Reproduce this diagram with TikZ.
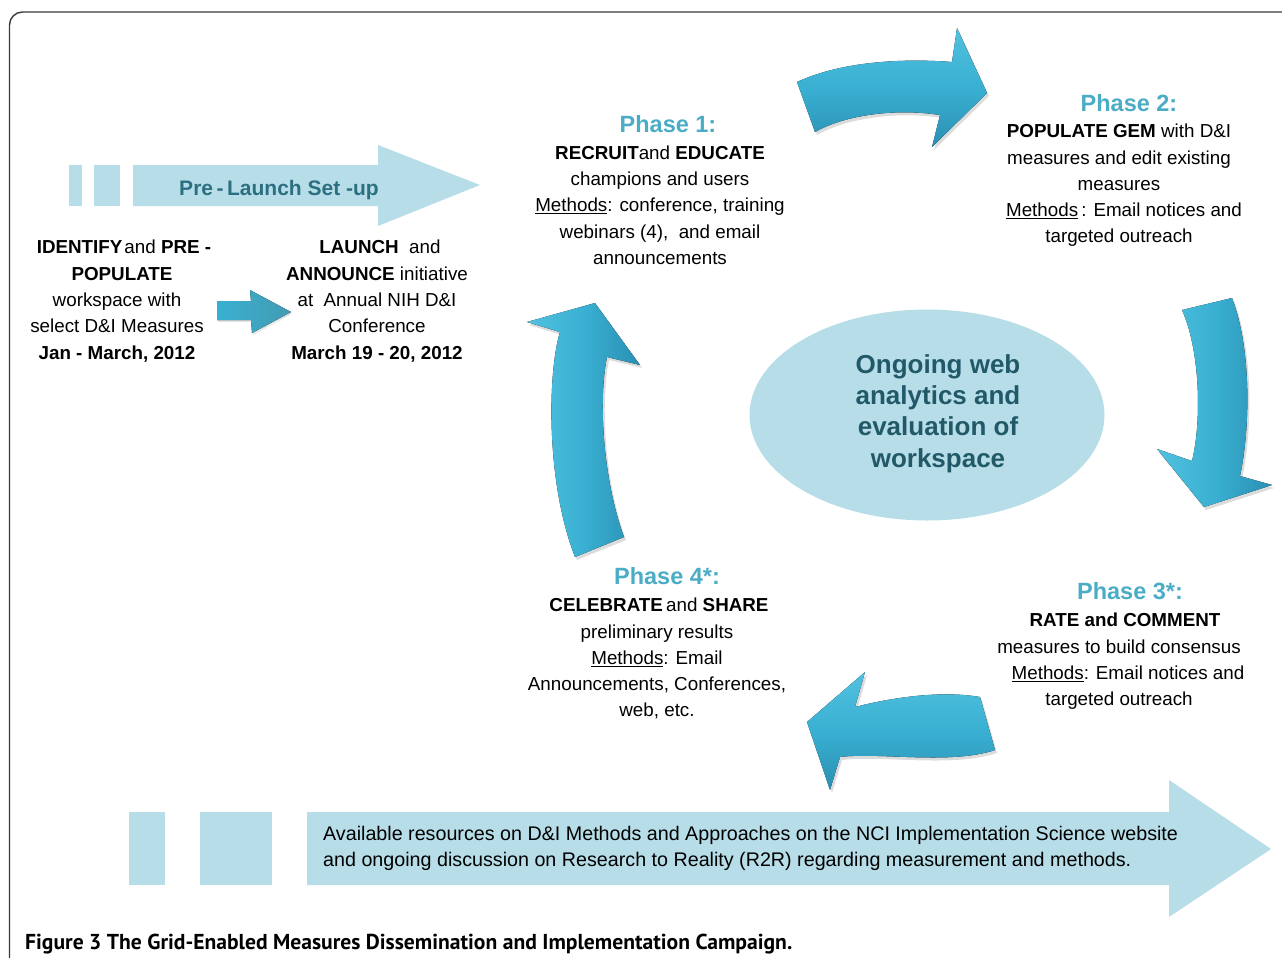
\documentclass[tikz,border=0pt]{standalone}
\usepackage{fontspec}
\setmainfont{Liberation Sans}
\newfontfamily\capfont{PT Sans}
\usetikzlibrary{shapes.geometric,shadows}

\definecolor{paleblue}{HTML}{B7DEE8}
\definecolor{phaseblue}{HTML}{4BACC6}
\definecolor{deepteal}{HTML}{215968}
\definecolor{preteal}{HTML}{2B6F80}
\definecolor{arrowlight}{HTML}{52C1DF}
\definecolor{arrowmain}{HTML}{39B0D2}
\definecolor{arrowdark}{HTML}{2A8FB2}
\definecolor{framegray}{HTML}{3A3A3A}

% underline with a visible rule
\newcommand{\methu}[1]{\setbox0\hbox{#1}\rlap{\rule[-2.6pt]{\wd0}{1.2pt}}\box0}
% strut fixing the first line's height
\newcommand{\firstbody}{\rule{0pt}{14pt}}
\newcommand{\firsthub}{\rule{0pt}{19.5pt}}

\tikzset{
  bodytext/.style={font=\fontsize{18.8}{26.3}\selectfont, align=center, inner sep=0, anchor=north},
  phasetitle/.style={font=\fontsize{23.5}{28}\selectfont\bfseries, text=phaseblue, inner sep=0, anchor=base},
  paleshape/.style={fill=paleblue, draw=none},
  bendarrow/.style={draw=none, drop shadow={opacity=0.28, shadow xshift=2pt, shadow yshift=-3pt}},
  vshade/.style={bendarrow, top color=arrowlight, bottom color=arrowdark, middle color=arrowmain},
  hshade/.style={bendarrow, left color=arrowlight, right color=arrowdark, middle color=arrowmain},
}

\begin{document}
\begin{tikzpicture}[x=1pt,y=-1pt]
\useasboundingbox (0,0) rectangle (1282,958);

% frame
\draw[framegray, line width=1.4pt, rounded corners=13pt] (9.5,970) -- (9.5,12) -- (1290,12);

% pre-launch banner arrow
\fill[paleshape] (69,165) rectangle (82,206);
\fill[paleshape] (94,165) rectangle (120,206);
\fill[paleshape] (133,165) -- (378,165) -- (378,145) -- (480,185) -- (378,226) -- (378,206) -- (133,206) -- cycle;
\node[font=\fontsize{21}{24}\selectfont\bfseries, text=preteal, inner sep=0, anchor=base] (prelabel) at (279,195.5) {Pre\,-\,Launch Set -up};

% pre-launch steps
\node[bodytext] (identify) at (117,239.7) {\firstbody\hspace*{14pt}\textbf{IDENTIFY}\kern2pt and \textbf{PRE -}\\ \hspace*{10pt}\textbf{POPULATE}\\ workspace with\\ select D\&I Measures\\ \textbf{Jan - March, 2012}};
\node[bodytext] (launch) at (377,239.7) {\firstbody\hspace*{6pt}\textbf{LAUNCH}\ \ and\\ \textbf{ANNOUNCE} initiative\\ at\ \ Annual NIH D\&I\\ Conference\\ \textbf{March 19 - 20, 2012}};

% small arrow between the two steps
\fill[left color=arrowmain, right color=phaseblue!90!black, drop shadow={opacity=0.2, shadow xshift=1pt, shadow yshift=-2pt}]
  (217,301) -- (251,301) -- (250,290) -- (291,312) -- (252,333) -- (251,320) -- (217,320) -- cycle;

% central ellipse
\node[ellipse, paleshape, minimum width=355pt, minimum height=211pt, inner sep=0] (hub) at (927,415) {};
\node[font=\fontsize{26}{31.3}\selectfont\bfseries, text=deepteal, align=center, inner sep=0, anchor=north] (hubtext) at (938,353.5)
  {\firsthub Ongoing web\\ analytics and\\ evaluation of\\ workspace};

% phase 1
\node[phasetitle] (p1title) at (668,132.5) {Phase 1:};
\node[bodytext] (p1body) at (660,145) {\firstbody\textbf{RECRUIT}and \textbf{EDUCATE}\\ champions and users\\ \methu{Methods}: conference, training\\ webinars (4),\ \ and email\\ announcements};

% phase 2
\node[phasetitle] (p2title) at (1129,111.5) {Phase 2:};
\node[bodytext] (p2body) at (1119,123.5) {\firstbody\textbf{POPULATE GEM} with D\&I\\ measures and edit existing\\ measures\\ \hspace*{10pt}\methu{Methods}\,: Email notices and\\ targeted outreach};

% phase 3
\node[phasetitle] (p3title) at (1130,599.5) {Phase 3*:};
\node[bodytext] (p3body) at (1119,612.7) {\firstbody\hspace*{12pt}\textbf{RATE and COMMENT}\\ measures to build consensus\\ \hspace*{18pt}\methu{Methods}: Email notices and\\ targeted outreach};

% phase 4
\node[phasetitle] (p4title) at (667,584.5) {Phase 4*:};
\node[bodytext] (p4body) at (657,597.5) {\firstbody\hspace*{4pt}\textbf{CELEBRATE}\,and \textbf{SHARE}\\ preliminary results\\ \methu{Methods}: Email\\ Announcements, Conferences,\\ web, etc.};

% cycle arrows
\fill[vshade] (797,82) .. controls (840,62) and (900,58) .. (952,62) -- (957,28) -- (987,93) -- (932,147) -- (940,115)
  .. controls (895,108) and (845,115) .. (815,132) -- cycle;
\fill[hshade] (1182,310) -- (1232,298) .. controls (1252,350) and (1250,430) .. (1240,476) -- (1272,485) -- (1204,507)
  -- (1157,449) -- (1192,461) .. controls (1202,420) and (1200,350) .. (1182,310) -- cycle;
\fill[vshade] (980,697) .. controls (940,690) and (890,698) .. (855,707) -- (865,672) -- (807,722) -- (830,790) -- (840,757)
  .. controls (880,752) and (950,765) .. (995,750) -- cycle;
\fill[hshade] (575,557) -- (624,537) .. controls (603,480) and (598,400) .. (607,357) -- (640,365) -- (595,303)
  -- (527,322) -- (560,332) .. controls (548,370) and (545,480) .. (575,557) -- cycle;

% resources banner arrow
\fill[paleshape] (129,812) rectangle (165,885);
\fill[paleshape] (200,812) rectangle (272,885);
\fill[paleshape] (307,812) -- (1169,812) -- (1169,780) -- (1271,849) -- (1169,917) -- (1169,885) -- (307,885) -- cycle;
\node[font=\fontsize{19.7}{26}\selectfont, align=left, inner sep=0, anchor=north west] (resources) at (323,826)
  {\firstbody Available resources on D\&I Methods and Approaches on the NCI Implementation Science website\\
   and ongoing discussion on Research to Reality (R2R) regarding measurement and methods.};

% caption
\node[font=\capfont\fontsize{21.6}{24}\selectfont\bfseries, inner sep=0, anchor=base west] (caption) at (25,949)
  {Figure 3 The Grid-Enabled Measures Dissemination and Implementation Campaign.};
\end{tikzpicture}
\end{document}
